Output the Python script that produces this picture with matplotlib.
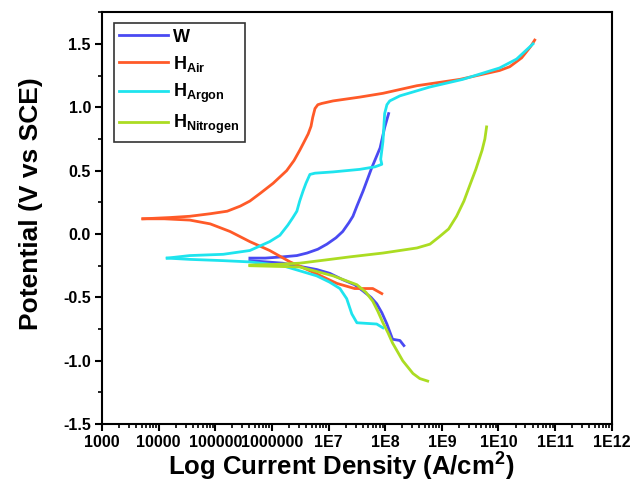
import numpy as np
import matplotlib
matplotlib.use("Agg")
import matplotlib.pyplot as plt
from matplotlib.ticker import FixedLocator, FixedFormatter, LogLocator, MultipleLocator

plt.rcParams['font.family'] = ['Liberation Sans', 'DejaVu Sans']
plt.rcParams['font.weight'] = 'bold'
plt.rcParams['mathtext.fontset'] = 'custom'
plt.rcParams['mathtext.bf'] = 'Liberation Sans:bold'
plt.rcParams['mathtext.rm'] = 'Liberation Sans:bold'

# log10 of current density and potential (V), anodic and cathodic branches
w_an_logi = [5.61, 5.88, 6.19, 6.44, 6.62, 6.81, 6.97, 7.13, 7.25, 7.36, 7.43, 7.50,
             7.61, 7.76, 7.91, 7.99, 8.06]
w_an_v = [-0.19, -0.19, -0.18, -0.17, -0.15, -0.12, -0.08, -0.03, 0.02, 0.09, 0.14, 0.22,
          0.34, 0.52, 0.68, 0.84, 0.95]
w_ca_logi = [5.61, 6.19, 6.79, 7.02, 7.25, 7.46, 7.61, 7.75, 7.85, 7.94, 8.03, 8.08,
             8.13, 8.26, 8.33]
w_ca_v = [-0.21, -0.23, -0.28, -0.31, -0.36, -0.40, -0.45, -0.50, -0.55, -0.62, -0.71, -0.77,
          -0.83, -0.84, -0.88]

air_an_logi = [3.72, 4.20, 4.55, 4.91, 5.21, 5.44, 5.61, 5.79, 6.02, 6.26, 6.39, 6.49,
               6.56, 6.64, 6.69, 6.72, 6.76, 6.81, 6.88, 7.08, 7.55, 7.96, 8.56, 9.32,
               10.02, 10.20, 10.41, 10.57, 10.64]
air_an_v = [0.12, 0.13, 0.14, 0.16, 0.18, 0.22, 0.26, 0.32, 0.40, 0.50, 0.58, 0.66,
            0.72, 0.79, 0.85, 0.92, 0.99, 1.02, 1.03, 1.05, 1.08, 1.11, 1.17, 1.22,
            1.29, 1.32, 1.39, 1.48, 1.53]
air_ca_logi = [3.72, 4.10, 4.55, 4.91, 5.26, 5.61, 5.96, 6.32, 6.67, 7.15, 7.46, 7.78, 7.94]
air_ca_v = [0.12, 0.12, 0.11, 0.08, 0.02, -0.06, -0.13, -0.22, -0.29, -0.39, -0.43, -0.43, -0.47]

ar_an_logi = [4.15, 4.55, 5.14, 5.61, 5.96, 6.14, 6.28, 6.37, 6.44, 6.49, 6.55, 6.60,
              6.67, 6.76, 7.08, 7.55, 7.82, 7.94, 7.92, 7.96, 7.99, 8.03, 8.08, 8.26,
              8.79, 9.37, 10.02, 10.32, 10.61]
ar_an_v = [-0.19, -0.17, -0.16, -0.13, -0.06, -0.01, 0.07, 0.13, 0.18, 0.26, 0.34, 0.40,
           0.47, 0.48, 0.49, 0.51, 0.53, 0.55, 0.59, 0.73, 0.95, 1.02, 1.05, 1.09,
           1.16, 1.22, 1.31, 1.38, 1.50]
ar_ca_logi = [4.15, 4.55, 5.14, 5.61, 6.19, 6.79, 7.02, 7.20, 7.32, 7.41, 7.50, 7.85, 7.96]
ar_ca_v = [-0.19, -0.20, -0.21, -0.22, -0.25, -0.33, -0.38, -0.43, -0.51, -0.63, -0.70, -0.71, -0.74]

n2_an_logi = [5.61, 6.05, 6.49, 6.94, 7.38, 7.96, 8.26, 8.56, 8.79, 8.96, 9.12, 9.26,
              9.39, 9.49, 9.60, 9.71, 9.76, 9.79]
n2_an_v = [-0.245, -0.24, -0.23, -0.205, -0.18, -0.15, -0.13, -0.11, -0.08, -0.02, 0.04, 0.14,
           0.26, 0.38, 0.51, 0.66, 0.75, 0.845]
n2_ca_logi = [5.61, 6.49, 7.08, 7.50, 7.66, 7.78, 7.87, 7.96, 8.05, 8.13, 8.31, 8.49, 8.61, 8.75]
n2_ca_v = [-0.25, -0.26, -0.33, -0.40, -0.46, -0.53, -0.61, -0.70, -0.78, -0.86, -1.00, -1.10,
           -1.14, -1.16]

xtick_vals = [1e3, 1e4, 1e5, 1e6, 1e7, 1e8, 1e9, 1e10, 1e11, 1e12]
xtick_labels = ['1000', '10000', '100000', '1000000', '1E7', '1E8', '1E9', '1E10', '1E11', '1E12']

series = [
    ('W', '#4a4af2', w_an_logi, w_an_v, w_ca_logi, w_ca_v),
    (r'H$_{\mathbf{Air}}$', '#ff5a28', air_an_logi, air_an_v, air_ca_logi, air_ca_v),
    (r'H$_{\mathbf{Argon}}$', '#1ee4ee', ar_an_logi, ar_an_v, ar_ca_logi, ar_ca_v),
    (r'H$_{\mathbf{Nitrogen}}$', '#abdc22', n2_an_logi, n2_an_v, n2_ca_logi, n2_ca_v),
]

fig = plt.figure(figsize=(6.3, 4.87), dpi=100)
ax = fig.add_axes([0.162, 0.129, 0.809, 0.846])

for label, color, alx, alv, clx, clv in series:
    ax.plot(10 ** np.array(alx), alv, color=color, lw=2.0, label=label)
    ax.plot(10 ** np.array(clx), clv, color=color, lw=2.0)

ax.set_xscale('log')
ax.set_xlim(1e3, 1e12)
ax.set_ylim(-1.5, 1.75)
ax.xaxis.set_major_locator(FixedLocator(xtick_vals))
ax.xaxis.set_major_formatter(FixedFormatter(xtick_labels))
ax.xaxis.set_minor_locator(LogLocator(base=10, subs=np.arange(2, 10)))
ax.yaxis.set_major_locator(MultipleLocator(0.5))
ax.yaxis.set_minor_locator(MultipleLocator(0.25))
ax.yaxis.set_major_formatter(plt.FuncFormatter(lambda v, p: f'{v:.1f}'))

ax.tick_params(axis='both', which='major', direction='out', length=5, width=1.5,
               labelsize=11.5, pad=3)
ax.tick_params(axis='both', which='minor', direction='out', length=3, width=1.2)
for s in ax.spines.values():
    s.set_linewidth(1.5)

ax.set_xlabel('Log Current Density (A/cm$^{\\mathbf{2}}$)', fontsize=18.5, fontweight='bold')
ax.xaxis.set_label_coords(0.47, -0.06)
ax.set_ylabel('Potential (V vs SCE)', fontsize=19, fontweight='bold')
ax.yaxis.set_label_coords(-0.116, 0.536)

leg = ax.legend(loc='upper left', bbox_to_anchor=(0.005, 0.995), fontsize=13,
                frameon=True, fancybox=False, edgecolor='black', handlelength=2.7,
                handletextpad=0.3, labelspacing=0.45, borderpad=0.3)
leg.get_frame().set_linewidth(1.2)
for t in leg.get_texts():
    t.set_fontweight('bold')

fig.savefig('out.png', dpi=100)
